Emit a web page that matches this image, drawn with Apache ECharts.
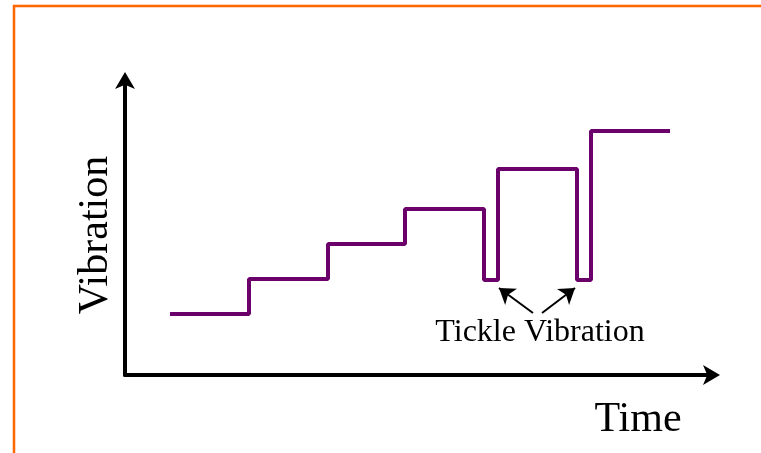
<!DOCTYPE html>
<html style="height: 100%">
<head>
    <meta charset="utf-8">
    <title>Tickle Vibration</title>
</head>
<body style="margin: 0; background: #fff">
<div id="container" style="width: 761px; height: 453px"></div>

<script src="https://cdn.jsdelivr.net/npm/echarts@6.0.0/dist/echarts.min.js" type="text/javascript"></script>

<script type="text/javascript">
    // step positions along time (arbitrary units) and vibration level held from each one
    var timePoints = [45, 124, 203, 280, 359, 373, 452, 466, 545];
    var vibrationLevels = [61, 96, 131, 166, 95, 206, 95, 244, 244];
    // arrows pointing at the two short dips
    var arrowTails = [[408, 62], [417, 62]];
    var arrowTips = [[374, 87], [450, 87]];

    var dom = document.getElementById("container");
    var myChart = echarts.init(dom);

    var serif = 'Liberation Serif, Times New Roman, serif';

    var stepData = timePoints.map(function (t, i) {
        return [t, vibrationLevels[i]];
    });

    var arrowLines = arrowTails.map(function (tail, i) {
        return [{coord: tail}, {coord: arrowTips[i]}];
    });

    var option = {
        animation: false,
        grid: {
            left: 125,
            right: 49,
            top: 80,
            bottom: 78
        },
        xAxis: {
            type: 'value',
            min: 0,
            max: 587,
            axisLine: {
                show: true,
                symbol: ['none', 'arrow'],
                symbolSize: [15, 17],
                symbolOffset: [0, 8],
                lineStyle: {color: '#000', width: 4}
            },
            axisTick: {show: false},
            axisLabel: {show: false},
            splitLine: {show: false}
        },
        yAxis: {
            type: 'value',
            min: 0,
            max: 295,
            axisLine: {
                show: true,
                symbol: ['none', 'arrow'],
                symbolSize: [15, 17],
                symbolOffset: [0, 8],
                lineStyle: {color: '#000', width: 4}
            },
            axisTick: {show: false},
            axisLabel: {show: false},
            splitLine: {show: false}
        },
        graphic: [
            {
                type: 'rect',
                silent: true,
                shape: {x: 14, y: 6, width: 800, height: 500},
                style: {fill: 'none', stroke: '#ff6600', lineWidth: 2.5}
            },
            {
                type: 'text',
                x: 96,
                y: 235,
                rotation: Math.PI / 2,
                style: {
                    text: 'Vibration',
                    font: '42px ' + serif,
                    fill: '#000',
                    textAlign: 'center',
                    textVerticalAlign: 'middle'
                }
            },
            {
                type: 'text',
                x: 638,
                y: 420,
                style: {
                    text: 'Time',
                    font: '42px ' + serif,
                    fill: '#000',
                    textAlign: 'center',
                    textVerticalAlign: 'middle'
                }
            },
            {
                type: 'text',
                x: 540,
                y: 333,
                style: {
                    text: 'Tickle Vibration',
                    font: '32px ' + serif,
                    fill: '#000',
                    textAlign: 'center',
                    textVerticalAlign: 'middle'
                }
            }
        ],
        series: [{
            type: 'line',
            step: 'end',
            data: stepData,
            showSymbol: false,
            lineStyle: {color: '#6b006b', width: 4},
            markLine: {
                silent: true,
                symbol: ['none', 'arrow'],
                symbolSize: 15,
                label: {show: false},
                lineStyle: {color: '#000', width: 2, type: 'solid'},
                data: arrowLines
            }
        }]
    };

    myChart.setOption(option, true);
</script>
</body>
</html>
